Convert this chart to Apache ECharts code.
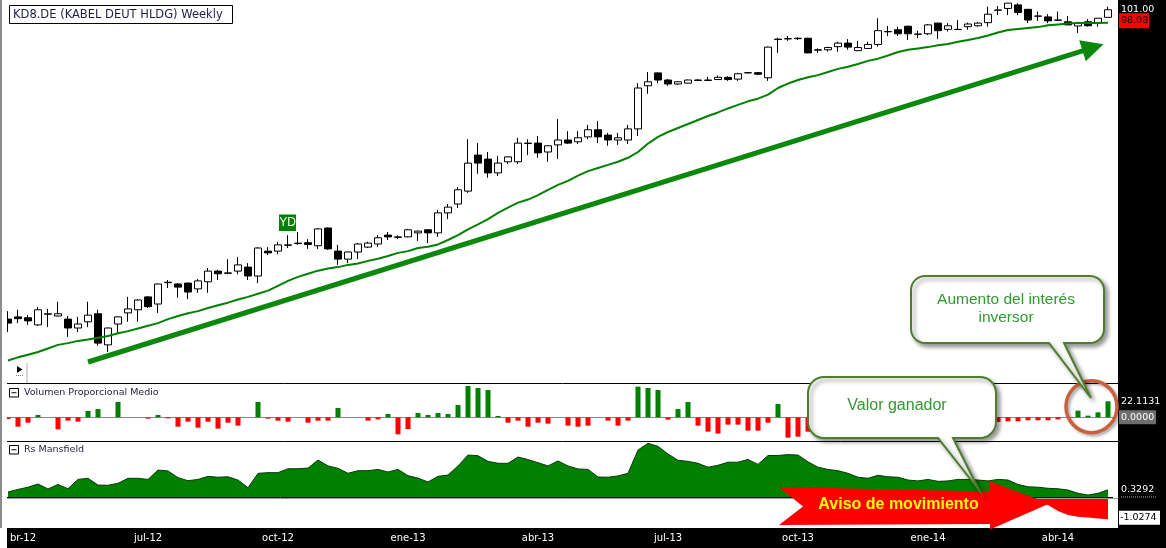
<!DOCTYPE html>
<html><head><meta charset="utf-8">
<script src="https://cdn.jsdelivr.net/npm/echarts/dist/echarts.min.js"></script>
<style>html,body{margin:0;padding:0;background:#fff;overflow:hidden}#c{width:1166px;height:548px}</style>
</head><body><div id="c"></div>
<script>
// ---------------- DATA ----------------
const firstWeek = '2012-03-30';
const tickLabels = ['br-12','jul-12','oct-12','ene-13','abr-13','jul-13','oct-13','ene-14','abr-14'];
const tickWeeks  = [1,14,27,40,53,66,79,92,105];

const opens = [31.4,31.9,31.7,30.1,32.5,32.1,31.4,29.4,30.8,32.6,
25.6,30.3,32.8,33.5,36.4,34.8,39.6,39.3,39.5,38.2,
39.8,42.2,41.7,42.2,43.1,41.1,46.7,46.7,48.0,48.4,
48.6,47.9,51.9,46.7,44.9,46.5,47.6,48.3,50.3,49.8,
49.9,50.8,51.5,50.8,55.3,57.3,60.2,68.3,67.4,64.3,
66.8,66.8,70.9,71.0,69.0,70.6,71.7,71.3,72.4,74.0,
72.8,71.7,71.7,74.2,83.9,86.8,85.2,84.3,84.5,85.1,
85.1,85.3,85.8,85.4,86.8,86.85,85.7,94.3,94.45,94.5,
94.6,91.9,92.0,92.7,93.5,91.8,92.3,93.2,96.05,96.5,
97.3,95.5,95.6,98.0,96.6,96.55,97.2,97.4,98.1,100.9,
101.3,102.1,101.1,99.55,99.4,98.65,98.3,97.35,98.3,98.1,99.3];
const highs = [33.2,33.5,32.3,34.1,33.7,35.3,32.1,31.9,35.3,33.5,
29.5,32.0,36.4,35.9,36.6,39.4,40.2,39.5,39.6,40.4,
42.9,42.5,44.9,45.4,44.0,47.6,47.6,48.8,50.3,51.0,
49.4,51.9,52.0,48.1,46.6,48.5,48.8,50.3,51.0,50.2,
51.7,51.3,51.6,56.0,57.3,61.1,71.9,71.0,69.0,68.1,
68.0,72.2,71.9,72.6,70.5,76.4,73.7,73.7,75.1,76.0,
73.3,73.3,75.1,84.5,87.0,86.9,85.4,84.9,85.3,85.4,
85.9,86.2,86.0,86.8,87.0,87.0,92.7,94.7,95.1,94.8,
94.7,92.3,92.7,93.8,94.4,94.0,93.8,99.1,97.35,97.2,
97.4,96.3,97.8,98.1,98.0,98.7,98.1,98.2,101.7,101.85,
102.5,102.5,101.2,100.6,100.0,100.6,99.6,98.3,98.9,99.1,101.7];
const lows = [28.5,30.5,30.1,29.9,29.6,32.0,27.4,28.5,29.6,25.4,
24.0,28.3,30.8,30.8,33.9,32.8,38.4,36.2,35.9,37.3,
37.3,40.2,41.5,41.5,40.2,39.5,45.8,46.0,47.4,48.1,
47.2,47.2,47.0,43.6,44.0,44.9,47.4,47.6,49.2,49.4,
49.8,49.0,48.5,49.9,53.9,56.4,59.8,64.1,63.2,63.6,
66.3,66.3,68.3,67.7,66.8,67.4,70.8,70.8,71.9,71.0,
70.4,70.6,70.8,72.6,82.1,84.5,83.9,84.1,84.4,85.0,
85.0,85.2,85.0,85.0,86.7,86.3,85.0,91.3,94.0,94.2,
91.2,91.3,91.6,91.6,92.0,91.7,92.2,92.7,95.1,95.1,
94.2,94.6,95.3,94.4,96.1,96.45,96.5,97.2,97.2,99.8,
99.8,99.8,98.0,98.5,98.0,98.55,97.55,95.8,97.2,97.2,99.3];
const closes = [30.5,31.5,31.0,33.5,32.6,32.6,29.4,30.3,32.3,26.0,
29.4,31.9,33.7,35.7,34.2,39.3,39.7,38.6,37.5,40.0,
42.2,41.6,41.8,43.6,41.1,47.4,46.3,48.1,48.1,48.5,
48.2,51.7,47.2,44.9,46.5,48.3,48.5,49.7,49.9,49.9,
51.5,51.2,50.8,55.3,56.6,60.5,66.5,66.5,64.3,66.5,
67.9,71.0,71.0,68.8,70.4,71.7,71.0,72.2,74.0,72.4,
71.7,72.2,74.2,83.4,84.8,85.2,84.3,84.8,85.2,85.2,
85.2,85.8,85.3,86.6,86.85,86.5,92.6,94.4,94.5,94.6,
91.3,92.0,92.5,93.5,92.6,92.5,93.2,96.3,96.1,95.6,
95.6,95.55,97.6,96.3,97.4,96.6,97.8,98.0,100.0,100.95,
102.5,100.4,98.7,99.6,98.5,98.7,97.6,98.0,97.4,99.1,101.0];
const ma30 = [22.1,22.8,23.4,24.0,24.8,25.6,26.0,26.5,26.8,27.2,
27.6,28.2,28.7,29.3,29.9,30.5,31.4,32.1,32.7,33.2,
33.9,34.5,35.1,35.8,36.4,37.1,37.8,38.9,40.0,40.9,
41.6,42.3,42.8,43.1,43.6,43.9,44.5,45.0,45.6,46.3,
46.7,47.4,47.7,48.2,49.2,50.3,51.6,52.7,53.9,55.3,
56.5,57.6,58.3,59.3,60.5,61.6,62.5,63.7,64.7,65.4,
66.1,66.8,67.7,69.0,70.9,72.4,73.5,74.4,75.3,76.2,
77.1,77.9,78.8,79.6,80.4,81.0,81.9,83.4,84.4,85.2,
85.8,86.3,87.0,87.7,88.2,88.8,89.5,90.0,90.7,91.5,
92.0,92.3,92.6,93.0,93.3,93.8,94.2,94.65,95.2,95.9,
96.45,96.7,96.9,97.1,97.5,97.7,97.9,98.0,98.0,98.05,98.08];
const volume = [-2.3,-12.9,-7.4,3.2,0,-16.6,-4.6,-6.0,8.7,11.5,
0,21.2,0,0,-1.8,3.2,-1.4,-12.9,-6.0,-14.3,
-6.0,-15.6,-7.4,-11.5,0,21.2,-1.8,-4.6,-6.0,0,
-7.4,-4.6,-4.6,12.9,0,0,-4.6,-2.8,4.6,-23.5,
-16.1,6.0,3.2,6.0,4.6,17.0,43.2,40.5,37.7,1.8,
-7.4,-4.6,-12.9,-7.4,-8.7,0,-11.5,-12.9,-11.5,0,
-4.6,-11.5,-4.6,42.3,40.5,37.7,-3.2,11.5,21.2,-11.5,
-19.8,-22.5,-10.1,-10.1,-18.4,-18.4,-7.4,18.4,-28.1,-26.7,
-19.8,-12,-8,-6,-10,-6,-4,8,-5,-7,
-9,-6,-4,-8,-5,-6,-4,-5,6,-6.4,
-5.5,-5.5,-4.1,-4.1,-4.1,-2.8,0,9.2,2.3,6.9,22.1131];
const rsMansfield = [0.23,0.35,0.45,0.60,0.37,0.58,0.38,0.81,0.86,0.55,
0.54,0.63,0.86,0.86,0.81,1.24,1.20,0.89,0.75,0.81,
0.95,0.91,0.93,0.78,0.43,1.09,1.12,1.12,1.30,1.30,
1.33,1.70,1.43,1.32,1.09,1.21,1.21,1.27,1.15,1.27,
0.98,0.87,0.69,0.95,1.01,1.43,1.93,1.90,1.64,1.55,
1.55,1.84,1.72,1.58,1.43,1.66,1.43,1.29,1.27,0.92,
0.91,0.97,1.09,2.16,2.47,2.33,1.98,1.69,1.64,1.55,
1.37,1.46,1.60,1.60,1.73,1.50,1.91,1.91,1.95,1.93,
1.62,1.37,1.27,1.21,1.09,0.91,0.86,1.00,0.93,0.91,
0.78,0.74,0.81,0.72,0.74,0.81,0.81,0.78,0.74,0.81,
0.78,0.58,0.47,0.45,0.40,0.38,0.32,0.17,0.09,0.17,0.3292];
const rsSignalStart = 102;
const rsSignal = [-0.05,-0.14,-0.37,-0.64,-0.83,-0.91,-0.94,-0.99,-1.0274];
const trendStart = [8, 21.75];
const trendEnd = [108.5, 92.5];

// ---------------- BUILD ----------------
const n = closes.length;
const weeks = [];
const t0 = Date.parse(firstWeek + 'T00:00:00Z');
for (let i = 0; i < n; i++) weeks.push(new Date(t0 + i * 7 * 86400000).toISOString().slice(0, 10));
const candle = opens.map((o, i) => [o, closes[i], lows[i], highs[i]]);
const sigData = weeks.map((w, i) => i >= rsSignalStart ? rsSignal[i - rsSignalStart] : null);

const chart = echarts.init(document.getElementById('c'), null, {renderer: 'canvas'});
const G = {left: 3, width: 1110, containLabel: false, outerBoundsMode: 'none'};
const hiddenCat = (gi) => ({type: 'category', gridIndex: gi, data: weeks, boundaryGap: true,
  axisLine: {show: false}, axisTick: {show: false}, axisLabel: {show: false}, splitLine: {show: false}});

const option = {
  animation: false,
  backgroundColor: '#ffffff',
  grid: [
    Object.assign({top: 0, height: 383}, G),
    Object.assign({top: 384, height: 57}, G),
    Object.assign({top: 441, height: 87}, G)
  ],
  xAxis: [
    hiddenCat(0),
    Object.assign(hiddenCat(1), {axisLine: {show: true, onZero: true, lineStyle: {color: '#8a8a8a', width: 1}}}),
    Object.assign(hiddenCat(2), {axisLabel: {show: true, color: '#ffffff', fontFamily: 'DejaVu Sans', fontSize: 10, margin: 5,
      interval: (idx) => tickWeeks.indexOf(idx) >= 0,
      formatter: (val, idx) => {
        const k = tickWeeks.indexOf(idx);
        if (k < 0) return '';
        return k === 0 ? '{first|' + tickLabels[0] + '}' : tickLabels[k];
      },
      rich: {first: {color: '#ffffff', fontFamily: 'DejaVu Sans', fontSize: 10, padding: [0, 0, 0, 10]}}}}),
    {type: 'value', gridIndex: 0, min: -0.5, max: n - 0.5, show: false}
  ],
  yAxis: [
    {type: 'value', gridIndex: 0, min: 17.025, max: 103.2, show: false, splitLine: {show: false}},
    {type: 'value', gridIndex: 1, min: -32.7, max: 46, show: false, splitLine: {show: false}},
    {type: 'value', gridIndex: 2, min: -1.426, max: 2.576, show: false, splitLine: {show: false}}
  ],
  series: [
    {type: 'candlestick', xAxisIndex: 0, yAxisIndex: 0, data: candle, barWidth: 7,
      itemStyle: {color: '#ffffff', color0: '#000000', borderColor: '#000000', borderColor0: '#000000', borderColorDoji: '#000000', borderWidth: 1},
      emphasis: {disabled: true}},
    {type: 'line', xAxisIndex: 0, yAxisIndex: 0, data: ma30, symbol: 'none', showSymbol: false,
      lineStyle: {color: '#008000', width: 2}, emphasis: {disabled: true}, z: 3},
    {type: 'line', xAxisIndex: 3, yAxisIndex: 0, data: [trendStart, trendEnd], symbol: 'none',
      lineStyle: {width: 0, opacity: 0}, z: 4,
      markLine: {silent: true, animation: false, symbol: ['none', 'triangle'], symbolSize: [22, 22],
        label: {show: false}, emphasis: {disabled: true},
        lineStyle: {color: '#0c880c', width: 5, type: 'solid'},
        data: [[{coord: trendStart}, {coord: trendEnd}]]}},
    {type: 'bar', xAxisIndex: 1, yAxisIndex: 1, barWidth: 5,
      data: volume.map(v => ({value: v, itemStyle: {color: v >= 0 ? '#008000' : '#ff0000'}})),
      emphasis: {disabled: true}},
    {type: 'line', xAxisIndex: 2, yAxisIndex: 2, data: rsMansfield, symbol: 'none',
      lineStyle: {color: '#0a3a0a', width: 1}, areaStyle: {color: '#008000', opacity: 1},
      emphasis: {disabled: true},
      markLine: {silent: true, animation: false, symbol: ['none', 'none'], label: {show: false},
        lineStyle: {color: '#000000', width: 1, type: 'solid'}, data: [{yAxis: 0}]}},
    {type: 'line', xAxisIndex: 2, yAxisIndex: 2, data: sigData, symbol: 'none', connectNulls: false,
      lineStyle: {width: 0}, areaStyle: {color: '#ff0000', opacity: 1}, emphasis: {disabled: true}}
  ]
};
chart.setOption(option);

// ---------------- ANNOTATIONS ----------------
const px = (yi, v) => chart.convertToPixel({yAxisIndex: yi}, v);
const yClose = px(0, closes[n - 1]);
const yMa = px(0, ma30[n - 1]);
const yVol = px(1, volume[n - 1]);
const yVolZero = px(1, 0);
const yRs = px(2, rsMansfield[n - 1]);
const yRsZero = px(2, 0);
const ySig = px(2, rsSignal[rsSignal.length - 1]);

function callout(x0, y0, x1, y1, r, tb1, tb2, tip) {
  const pts = [];
  const arc = (cx, cy, a0, a1) => { for (let k = 0; k <= 8; k++) { const a = a0 + (a1 - a0) * k / 8; pts.push([cx + r * Math.cos(a), cy + r * Math.sin(a)]); } };
  arc(x0 + r, y0 + r, Math.PI, 1.5 * Math.PI);
  arc(x1 - r, y0 + r, 1.5 * Math.PI, 2 * Math.PI);
  arc(x1 - r, y1 - r, 0, 0.5 * Math.PI);
  pts.push([tb2, y1]); pts.push(tip); pts.push([tb1, y1]);
  arc(x0 + r, y1 - r, 0.5 * Math.PI, Math.PI);
  return pts;
}
const calloutStyle = {fill: '#ffffff', stroke: '#4e7d2b', lineWidth: 2,
  shadowBlur: 4, shadowColor: 'rgba(0,0,0,0.4)', shadowOffsetX: 3, shadowOffsetY: 3};
const txt = (x, y, text, font, fill, align, z) => ({type: 'text', x: x, y: y, z: z || 105, silent: true,
  style: {text: text, font: font, fill: fill, align: align || 'left', verticalAlign: 'middle'}});
const ln = (x1, y1, x2, y2, stroke, w, z, dash) => ({type: 'line', z: z, silent: true,
  shape: {x1: x1, y1: y1, x2: x2, y2: y2}, style: {stroke: stroke, lineWidth: w, lineDash: dash || null}});
const AX = "9.5px 'DejaVu Sans'";

const graphics = [
  // frame and bands
  {type: 'rect', z: -5, silent: true, shape: {x: 1118, y: 0, width: 48, height: 548}, style: {fill: '#000000'}},
  {type: 'rect', z: -5, silent: true, shape: {x: 7, y: 528, width: 1159, height: 20}, style: {fill: '#000000'}},
  {type: 'rect', z: 40, silent: true, shape: {x: 2, y: 0, width: 5, height: 528}, style: {fill: '#ffffff'}},
  ln(1, 0, 1, 528, '#8c8c8c', 2, 41),
  ln(7, 383.5, 1118, 383.5, '#000000', 1, 41),
  ln(7, 441.5, 1118, 441.5, '#000000', 1, 41),
  ln(7, yRsZero + 1.5, 1118, yRsZero + 1.5, '#9a9a9a', 1, 41),
  // title
  {type: 'rect', z: 100, silent: true, shape: {x: 9.5, y: 5.5, width: 223, height: 18}, style: {fill: '#ffffff', stroke: '#000000', lineWidth: 1}},
  txt(13, 15, 'KD8.DE (KABEL DEUT HLDG) Weekly', "11.5px 'DejaVu Sans'", '#1e1e46'),
  // YD marker
  {type: 'rect', z: 100, silent: true, shape: {x: 279, y: 214.5, width: 17, height: 16.5}, style: {fill: '#008000'}},
  txt(287.5, 223, 'YD', "12px 'Liberation Sans'", '#ffffff', 'center'),
  // play button
  {type: 'polygon', z: 100, silent: true, shape: {points: [[17, 366], [17, 373], [22.5, 369.5]]}, style: {fill: '#000000'}},
  ln(16, 375.5, 24, 375.5, '#777777', 1, 100, [1, 1]),
  ln(27, 363, 27, 383, '#b0b0b0', 1, 100),
  // panel titles
  {type: 'rect', z: 100, silent: true, shape: {x: 9.5, y: 388.5, width: 9, height: 8.5}, style: {fill: '#ffffff', stroke: '#000000', lineWidth: 1}},
  ln(11.5, 392.75, 16.5, 392.75, '#000000', 1, 101),
  txt(24, 393, 'Volumen Proporcional Medio', "9.5px 'DejaVu Sans'", '#1c1c3c'),
  {type: 'rect', z: 100, silent: true, shape: {x: 9.5, y: 445.5, width: 9, height: 8.5}, style: {fill: '#ffffff', stroke: '#000000', lineWidth: 1}},
  ln(11.5, 449.75, 16.5, 449.75, '#000000', 1, 101),
  txt(24, 450, 'Rs Mansfield', "9.5px 'DejaVu Sans'", '#1c1c3c'),
  // red arrow "Aviso de movimiento"
  {type: 'polygon', z: 100, silent: true,
    shape: {points: [[779, 487], [990, 491.5], [990, 481.5], [1049.5, 503.5], [990, 529.5], [990, 524], [779, 525], [803, 506.5]]},
    style: {fill: '#ff0000'}},
  txt(898.5, 505, 'Aviso de movimiento', "bold 16px 'Liberation Sans'", '#ffff00', 'center', 101),
  // circle around last volume bars
  {type: 'ellipse', z: 102, silent: true, shape: {cx: 1091.5, cy: 406.7, rx: 25.5, ry: 26},
    style: {fill: null, stroke: '#c9603e', lineWidth: 3.5, shadowBlur: 3, shadowColor: 'rgba(0,0,0,0.35)', shadowOffsetX: 2, shadowOffsetY: 2}},
  // callouts
  {type: 'polygon', z: 103, silent: true, shape: {points: callout(911, 276, 1104, 343, 14, 1049, 1064, [1091, 398])}, style: calloutStyle},
  txt(1006, 299.5, 'Aumento del interés', "15.5px 'Liberation Sans'", '#2f9a2f', 'center', 104),
  txt(1006, 317.5, 'inversor', "15.5px 'Liberation Sans'", '#2f9a2f', 'center', 104),
  {type: 'polygon', z: 103, silent: true, shape: {points: callout(808, 377, 996, 438, 16, 938, 953, [979, 490])}, style: calloutStyle},
  txt(897, 406, 'Valor ganador', "16px 'Liberation Sans'", '#2f9a2f', 'center', 104),
  // right scale value labels
  txt(1121, yClose, closes[n - 1].toFixed(2), AX, '#ffffff', 'left', 110),
  {type: 'rect', z: 109, silent: true, shape: {x: 1119, y: yMa - 9.5, width: 30, height: 15}, style: {fill: '#ff0000'}},
  txt(1121, yMa - 2, ma30[n - 1].toFixed(2), AX, '#000000', 'left', 110),
  txt(1121, yVol, volume[n - 1].toFixed(4), AX, '#ffffff', 'left', 110),
  {type: 'rect', z: 109, silent: true, shape: {x: 1119, y: yVolZero - 7, width: 37, height: 14}, style: {fill: '#6e6e6e'}},
  txt(1121, yVolZero, (0).toFixed(4), AX, '#ffffff', 'left', 110),
  txt(1121, yRs, rsMansfield[n - 1].toFixed(4), AX, '#ffffff', 'left', 110),
  ln(1121, yRsZero, 1156, yRsZero, '#aaaaaa', 1, 110, [1, 1]),
  {type: 'rect', z: 109, silent: true, shape: {x: 1119, y: ySig - 8.5, width: 41, height: 14}, style: {fill: '#ffffff'}},
  txt(1120, ySig - 1.5, rsSignal[rsSignal.length - 1].toFixed(4), AX, '#000000', 'left', 110)
];
chart.setOption({graphic: graphics});
</script>
</body></html>
